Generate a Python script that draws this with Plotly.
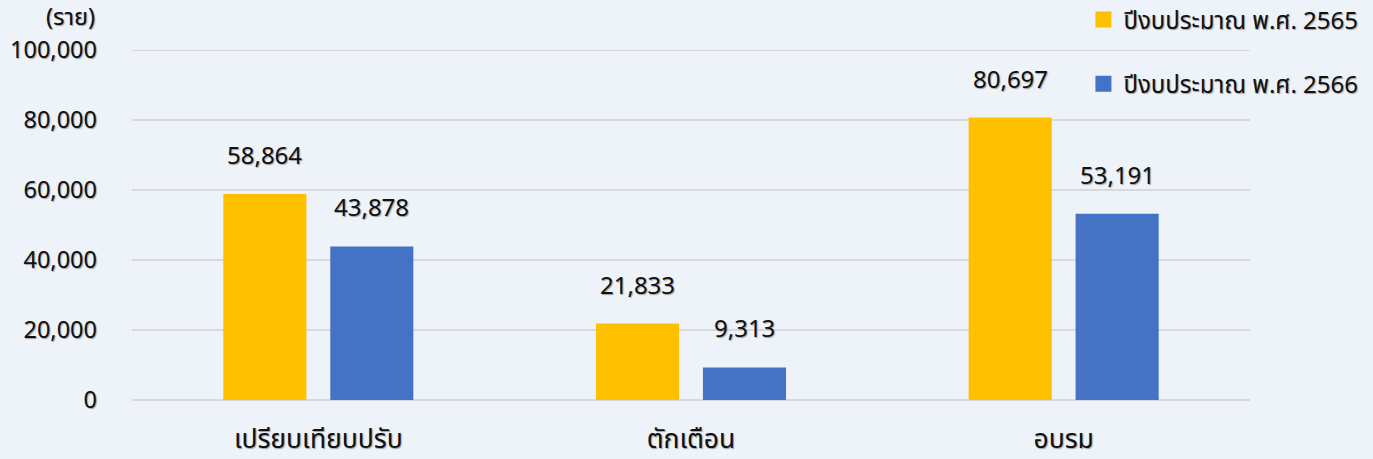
import plotly.graph_objects as go

categories = ["เปรียบเทียบปรับ", "ตักเตือน", "อบรม"]
series_names = ["ปีงบประมาณ พ.ศ. 2565", "ปีงบประมาณ พ.ศ. 2566"]
values_2565 = [58864, 21833, 80697]
values_2566 = [43878, 9313, 53191]
colors = ["#FFC000", "#4472C4"]
y_ticks = [0, 20000, 40000, 60000, 80000, 100000]
y_tick_labels = ["0", "20,000", "40,000", "60,000", "80,000", "100,000"]

FONT = "Noto Sans Thai, Noto Sans, Tahoma, sans-serif"
SHADOW = "1px 1px 1px rgba(0,0,0,0.35)"
W, H = 1373, 459
bar_w = 0.223
offsets = [-0.255, 0.032]

fig = go.Figure()
for i, (name, vals) in enumerate(zip(series_names, [values_2565, values_2566])):
    fig.add_trace(go.Bar(
        x=categories, y=vals, name=name, marker_color=colors[i],
        width=bar_w, offset=offsets[i], showlegend=False,
        marker_line_width=0,
    ))
    # legend entry with a larger square symbol
    fig.add_trace(go.Scatter(
        x=[None], y=[None], mode="markers", name=name, legendgroup=str(i),
        marker=dict(symbol="square", size=20, color=colors[i]),
        showlegend=True,
    ))
    for c, v in zip(categories, vals):
        fig.add_annotation(
            x=c, y=v, xref="x", yref="y", text=f"{v:,}", showarrow=False,
            xshift=(offsets[i] + bar_w / 2) * 373, yshift=37, yanchor="middle",
            font=dict(size=24, color="#111", family=FONT, shadow=SHADOW),
        )

fig.add_annotation(x=-0.031, y=1.092, xref="paper", yref="paper", text="(ราย)",
                   showarrow=False, xanchor="right", yanchor="middle",
                   font=dict(size=23.5, color="#111", family=FONT, shadow=SHADOW))

fig.add_shape(type="line", xref="paper", yref="y", x0=0, x1=1, y0=100000, y1=100000,
              line=dict(color="#D9D9D9", width=2), layer="below")

fig.update_layout(
    width=W, height=H,
    margin=dict(l=131.5, r=122.5, t=50, b=59, pad=0, autoexpand=False),
    paper_bgcolor="#EEF3FA", plot_bgcolor="#EEF3FA",
    barmode="overlay",
    font=dict(family=FONT, size=23, color="#111", shadow=SHADOW),
    showlegend=True,
    legend=dict(x=0.851, y=1.15, xanchor="left", yanchor="top",
                bgcolor="rgba(0,0,0,0)", font=dict(size=24, color="#111"),
                traceorder="grouped", tracegroupgap=30, itemwidth=30),
    xaxis=dict(showgrid=False, showline=False, ticks="", ticklabelstandoff=20,
               tickfont=dict(size=26.5), range=[-0.5, 2.5], automargin=False),
    yaxis=dict(range=[0, 100000], tickvals=y_ticks, ticktext=y_tick_labels,
               gridcolor="#D9D9D9", gridwidth=2, zeroline=True,
               zerolinecolor="#D9D9D9", zerolinewidth=2, showline=False,
               ticklabelstandoff=34, tickfont=dict(size=23.5), automargin=False),
)

fig.write_html("out.html", config={"displayModeBar": False},
               post_script="document.body.style.margin='0';")
